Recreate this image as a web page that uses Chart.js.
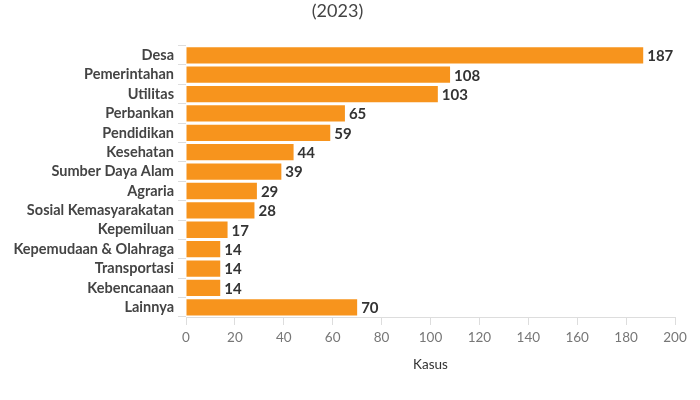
<!DOCTYPE html>
<html>
<head>
<meta charset="utf-8">
<script src="https://cdn.jsdelivr.net/npm/chart.js@4/dist/chart.umd.min.js"></script>
<style>
  html, body { margin: 0; padding: 0; background: #fff; }
  #wrap { width: 700px; height: 400px; position: relative; }
</style>
</head>
<body>
<div id="wrap"><canvas id="kasusChart"></canvas></div>
<script>
var categories = ['Desa', 'Pemerintahan', 'Utilitas', 'Perbankan', 'Pendidikan', 'Kesehatan',
  'Sumber Daya Alam', 'Agraria', 'Sosial Kemasyarakatan', 'Kepemiluan',
  'Kepemudaan & Olahraga', 'Transportasi', 'Kebencanaan', 'Lainnya'];
var kasus = [187, 108, 103, 65, 59, 44, 39, 29, 28, 17, 14, 14, 14, 70];
var xTicks = [0, 20, 40, 60, 80, 100, 120, 140, 160, 180, 200];

var fontFamily = 'Lato, "Open Sans", sans-serif';

// value labels at the end of each bar
var barLabels = {
  id: 'barLabels',
  afterDatasetsDraw: function (chart) {
    var ctx = chart.ctx;
    var meta = chart.getDatasetMeta(0);
    ctx.save();
    ctx.font = 'bold 15px ' + fontFamily;
    ctx.fillStyle = '#333333';
    ctx.textAlign = 'left';
    ctx.textBaseline = 'middle';
    meta.data.forEach(function (bar, i) {
      ctx.fillText(kasus[i], bar.x + 4, bar.y + 1);
    });
    ctx.restore();
  }
};

var ctx = document.getElementById('kasusChart');
var myChart = new Chart(ctx, {
  type: 'bar',
  data: {
    labels: categories,
    datasets: [{
      label: 'Kasus',
      data: kasus,
      backgroundColor: '#f7941d',
      borderWidth: 0,
      barPercentage: 0.84,
      categoryPercentage: 1
    }]
  },
  options: {
    indexAxis: 'y',
    responsive: true,
    maintainAspectRatio: false,
    animation: false,
    layout: {
      padding: { top: 0, right: 25, bottom: 20, left: 0 }
    },
    plugins: {
      legend: { display: false },
      tooltip: { enabled: false },
      title: {
        display: true,
        text: '(2023)',
        color: '#444444',
        font: { family: fontFamily, size: 18, weight: 'normal' },
        padding: { top: 0, bottom: 24 }
      }
    },
    scales: {
      x: {
        min: 0,
        max: 200,
        afterBuildTicks: function (axis) {
          axis.ticks = xTicks.map(function (v) { return { value: v }; });
        },
        afterFit: function (axis) { axis.height = 63; },
        border: { display: true, color: '#dddddd' },
        grid: { drawOnChartArea: false, tickLength: 8, color: '#dddddd' },
        ticks: {
          color: '#777777',
          padding: 5,
          font: { family: fontFamily, size: 13.5 }
        },
        title: {
          display: true,
          text: 'Kasus',
          color: '#333333',
          font: { family: fontFamily, size: 13.5 },
          padding: { top: 3, bottom: 7 }
        }
      },
      y: {
        afterFit: function (axis) { axis.width = 186; },
        border: { display: false },
        grid: { drawOnChartArea: false, tickLength: 8, color: '#dddddd' },
        ticks: {
          autoSkip: false,
          color: '#444444',
          padding: 4,
          font: { family: fontFamily, size: 14.5, weight: 'bold' }
        }
      }
    }
  },
  plugins: [barLabels]
});
</script>
</body>
</html>
